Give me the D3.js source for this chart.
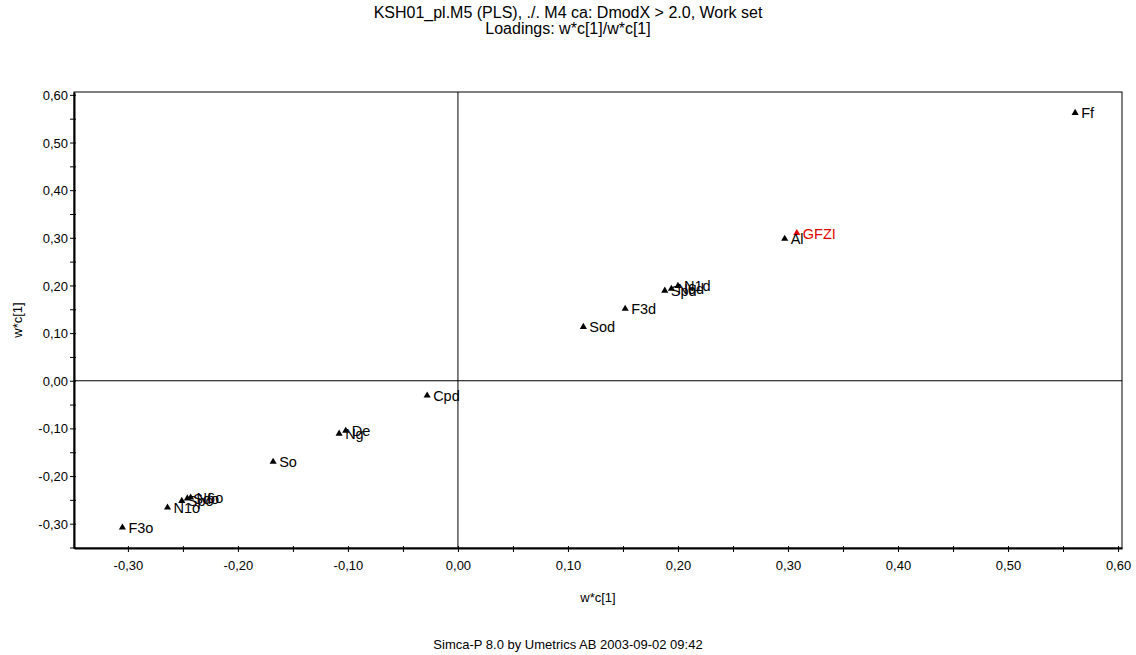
<!DOCTYPE html>
<html>
<head>
<meta charset="utf-8">
<script src="https://cdn.jsdelivr.net/npm/d3@7"></script>
<style>
  html, body { margin: 0; padding: 0; background: #fff; }
  svg { display: block; font-family: "Liberation Sans", Arial, sans-serif; }
</style>
</head>
<body>
<svg id="chart" width="1136" height="655"></svg>
<script>
// loadings w*c[1] vs w*c[1]
const names = ["Ff", "Al", "GFZI", "N1d", "N6d", "Spd", "F3d", "Sod", "Cpd", "De", "Ng", "So", "N6o", "Sdo", "Spo", "N1o", "F3o"];
const xVals = [0.561, 0.297, 0.308, 0.200, 0.194, 0.188, 0.152, 0.114, -0.028, -0.102, -0.108, -0.168, -0.243, -0.246, -0.251, -0.264, -0.305];
const yVals = [0.562, 0.298, 0.310, 0.199, 0.193, 0.189, 0.151, 0.113, -0.031, -0.105, -0.111, -0.170, -0.245, -0.247, -0.252, -0.266, -0.308];
const highlighted = ["GFZI"];
const tickValues = [-0.3, -0.2, -0.1, 0, 0.1, 0.2, 0.3, 0.4, 0.5, 0.6];
const yTickValues = [-0.3, -0.2, -0.1, 0, 0.1, 0.2, 0.3, 0.4, 0.5, 0.6];

(function () {
  const svg = d3.select("#chart");
  const pl = 74, pr = 1122, pt = 92, pb = 548;
  const fmt = (v) => d3.format(".2f")(v).replace(".", ",").replace("−", "-");

  const x = d3.scaleLinear().domain([-0.349, 0.6036]).range([pl, pr]);
  const y = d3.scaleLinear().domain([-0.351, 0.606]).range([pb, pt]);

  // titles
  svg.append("text").attr("x", 568).attr("y", 18).attr("text-anchor", "middle")
    .attr("font-size", 16).text("KSH01_pl.M5 (PLS), ./. M4 ca: DmodX > 2.0, Work set");
  svg.append("text").attr("x", 568).attr("y", 34).attr("text-anchor", "middle")
    .attr("font-size", 16).text("Loadings: w*c[1]/w*c[1]");

  // frame
  svg.append("rect").attr("x", pl).attr("y", pt).attr("width", pr - pl).attr("height", pb - pt)
    .attr("fill", "none").attr("stroke", "#000").attr("stroke-width", 1);

  // zero lines
  svg.append("line").attr("x1", x(0)).attr("x2", x(0)).attr("y1", pt).attr("y2", pb).attr("stroke", "#000");
  svg.append("line").attr("x1", pl).attr("x2", pr).attr("y1", y(0)).attr("y2", y(0)).attr("stroke", "#000");

  // axes, ticks every 0.05, labels every 0.1
  const minorX = d3.range(-0.35, 0.601, 0.05).filter((v) => v >= -0.349);
  const minorY = d3.range(-0.35, 0.601, 0.05).filter((v) => v >= -0.351);

  const xAxis = svg.append("g").attr("transform", `translate(0,${pb})`);
  xAxis.call(d3.axisBottom(x).tickValues(minorX).tickFormat("").tickSizeInner(4).tickSizeOuter(0));
  xAxis.selectAll(".tick line").attr("y1", -2);
  xAxis.select(".domain").attr("stroke-width", 2);
  xAxis.selectAll(".tick").filter((d) => tickValues.some((t) => Math.abs(t - d) < 1e-6))
    .append("text").attr("y", 22).attr("fill", "#000").attr("font-size", 13)
    .attr("text-anchor", "middle").text((d) => fmt(d));

  const yAxis = svg.append("g").attr("transform", `translate(${pl},0)`);
  yAxis.call(d3.axisLeft(y).tickValues(minorY).tickFormat("").tickSizeInner(4).tickSizeOuter(0));
  yAxis.selectAll(".tick line").attr("x1", 2);
  yAxis.select(".domain").attr("stroke-width", 2);
  yAxis.selectAll(".tick").filter((d) => yTickValues.some((t) => Math.abs(t - d) < 1e-6))
    .append("text").attr("x", -6).attr("dy", "0.35em").attr("fill", "#000").attr("font-size", 13)
    .attr("text-anchor", "end").text((d) => fmt(d));
  svg.selectAll("g").attr("font-family", null);

  // axis titles
  svg.append("text").attr("x", (pl + pr) / 2).attr("y", 602).attr("text-anchor", "middle")
    .attr("font-size", 13).text("w*c[1]");
  svg.append("text").attr("transform", `translate(22,${(pt + pb) / 2}) rotate(-90)`)
    .attr("text-anchor", "middle").attr("font-size", 13).text("w*c[1]");

  // footer
  svg.append("text").attr("x", 568).attr("y", 649).attr("text-anchor", "middle")
    .attr("font-size", 13).text("Simca-P 8.0 by Umetrics AB 2003-09-02 09:42");

  // points
  const pts = names.map((n, i) => ({ name: n, x: xVals[i], y: yVals[i], hi: highlighted.includes(n) }));
  const tri = d3.symbol().type(d3.symbolTriangle).size(22);
  const g = svg.append("g");
  g.selectAll("path").data(pts).join("path")
    .attr("d", tri)
    .attr("transform", (d) => `translate(${x(d.x)},${y(d.y)})`)
    .attr("fill", (d) => (d.hi ? "#e00000" : "#000"));
  g.selectAll("text").data(pts).join("text")
    .attr("x", (d) => x(d.x) + 6).attr("y", (d) => y(d.y)).attr("dy", "0.38em")
    .attr("font-size", 14.5)
    .attr("fill", (d) => (d.hi ? "#e00000" : "#000"))
    .text((d) => d.name);
})();
</script>
</body>
</html>
